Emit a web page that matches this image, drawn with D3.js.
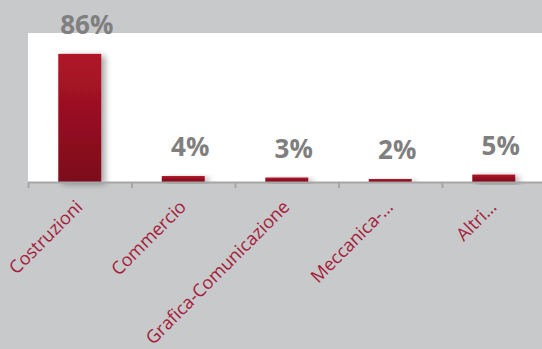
<!DOCTYPE html>
<html><head><meta charset="utf-8">
<script src="https://cdn.jsdelivr.net/npm/d3@7"></script>
<style>html,body{margin:0;padding:0;background:#c8c9cb;}svg{display:block;}</style>
</head><body>
<script>
const categories = ["Costruzioni","Commercio","Grafica-Comunicazione","Meccanica-…","Altri…"];
const values = [86,4,3,2,5];
const valueLabels = ["86%","4%","3%","2%","5%"];

(function(){
const W=542,H=349;
const svg=d3.select("body").append("svg").attr("width",W).attr("height",H);
svg.append("rect").attr("width",W).attr("height",H).attr("fill","#c8c9cb");
const defs=svg.append("defs");
const g=defs.append("linearGradient").attr("id","bg").attr("x1",0).attr("x2",0).attr("y1",0).attr("y2",1);
g.append("stop").attr("offset","0%").attr("stop-color","#b01428");
g.append("stop").attr("offset","100%").attr("stop-color","#7c0c1b");
const f=defs.append("filter").attr("id","sh").attr("x","-30%").attr("y","-30%").attr("width","180%").attr("height","160%");
f.append("feDropShadow").attr("dx",4).attr("dy",2).attr("stdDeviation",3).attr("flood-color","#000").attr("flood-opacity",0.35);

const pLeft=28, pTop=33, pBottom=182, step=103.5;
const x=d3.scaleBand().domain(categories).range([pLeft,pLeft+step*categories.length]).paddingInner(0.585).paddingOuter(0.2925);
const y=d3.scaleLinear().domain([0,100]).range([pBottom,pTop]);

svg.append("rect").attr("x",pLeft).attr("y",pTop).attr("width",W-pLeft).attr("height",pBottom-pTop).attr("fill","#fff");

svg.selectAll(".bar").data(values).enter().append("rect")
 .attr("x",(d,i)=>x(categories[i])).attr("y",d=>y(d))
 .attr("width",x.bandwidth()).attr("height",d=>pBottom-y(d))
 .attr("fill","url(#bg)").attr("filter","url(#sh)");

svg.append("line").attr("x1",pLeft).attr("x2",W).attr("y1",pBottom+0.5).attr("y2",pBottom+0.5).attr("stroke","#a6a6a6").attr("stroke-width",2);
const tickX=d3.range(categories.length+1).map(k=>pLeft+k*x.step());
svg.selectAll(".tk").data(tickX).enter().append("line")
 .attr("x1",d=>d+0.5).attr("x2",d=>d+0.5).attr("y1",pBottom).attr("y2",pBottom+6)
 .attr("stroke","#a6a6a6").attr("stroke-width",2);

svg.selectAll(".vl").data(values).enter().append("text")
 .attr("x",(d,i)=>x(categories[i])+x.bandwidth()/2+7).attr("y",d=>y(d)-20)
 .attr("text-anchor","middle").attr("font-family","'Open Sans'").attr("font-weight","bold")
 .attr("font-size",26).attr("fill","#7f7f7f").text((d,i)=>valueLabels[i]);

svg.selectAll(".cl").data(categories).enter().append("text")
 .attr("transform",d=>`translate(${x(d)+x.bandwidth()/2+4},${pBottom+26}) rotate(-45)`)
 .attr("text-anchor","end").attr("font-family","'Open Sans'").attr("font-size",18)
 .attr("fill","#a4203a").text(d=>d);
})();
</script>
</body></html>
